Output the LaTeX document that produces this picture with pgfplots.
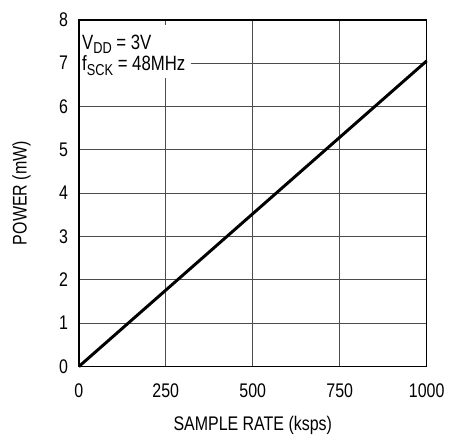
\documentclass[border=0pt]{standalone}
\usepackage{fontspec}
\setmainfont{Liberation Sans}[FakeStretch=0.81]
\usepackage{pgfplots}
\pgfplotsset{compat=1.18}
\newcommand\sub[1]{\raisebox{-0.4ex}{\fontsize{8}{8}\selectfont #1}}
\begin{document}
\begin{tikzpicture}
\begin{axis}[
  at={(0,0)}, anchor=south west,
  width=176.5pt, height=176pt, scale only axis,
  xmin=0, xmax=1000, ymin=0, ymax=8,
  xtick={0,250,500,750,1000},
  ytick={0,1,2,3,4,5,6,7,8},
  major tick length=0pt,
  grid=major,
  major grid style={line width=0.5pt, color=black!70},
  axis line style={line width=0.8pt, color=black},
  /pgf/number format/assume math mode=true,
  /pgf/number format/1000 sep={},
  tick label style={font=\fontsize{10}{11}\selectfont},
  xticklabel style={yshift=-5pt},
  yticklabel style={xshift=-2pt},
  xlabel={SAMPLE RATE (ksps)},
  ylabel={POWER (mW)},
  label style={font=\fontsize{10}{11}\selectfont},
  xlabel style={yshift=-2.5pt},
  ylabel style={yshift=7.5pt},
  clip=false,
]
\addplot[line width=1.5pt, color=black] coordinates {(0,0) (1000,7.05)};
\node[anchor=north west, fill=white, inner sep=0pt, minimum width=56pt, minimum height=27pt, yshift=-2.5pt, xshift=0.5pt] (box) at (rel axis cs:0,1) {};
\node[anchor=north west, align=left, inner sep=0pt, font=\fontsize{10.5}{9.5}\selectfont, xshift=1pt, yshift=-5pt] at (box.north west) {V\sub{DD} = 3V\\f\sub{SCK} = 48MHz};
\end{axis}
\path[use as bounding box] (-40pt,-26.5pt) rectangle (185.5pt,186pt);
\end{tikzpicture}
\end{document}
